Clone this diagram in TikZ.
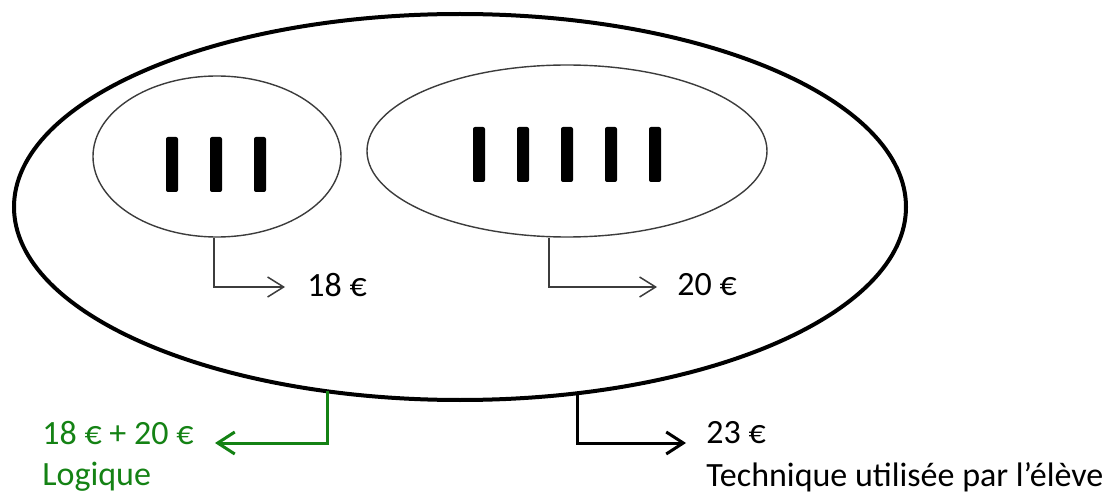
\documentclass[tikz,border=0pt]{standalone}
\usepackage{fontspec}
\setmainfont{Carlito}
\usetikzlibrary{shapes.geometric,arrows.meta}
\definecolor{logicgreen}{RGB}{20,130,20}
\definecolor{thingray}{RGB}{60,60,60}
\tikzset{
  bigell/.style={draw=black, line width=2pt, ellipse, inner sep=0pt, minimum width=446pt, minimum height=193pt},
  smallell/.style={draw=thingray, line width=0.7pt, ellipse, inner sep=0pt},
  bar/.style={fill=black, rounded corners=1pt},
  thinarrow/.style={draw=thingray, line width=0.75pt, -{Straight Barb[length=8pt,width=10pt,line width=0.75pt]}},
  thickarrow/.style={line width=1.5pt, -{Straight Barb[length=8.5pt,width=11pt,line width=1.5pt]}},
  lab/.style={anchor=west, inner sep=0pt, font=\fontsize{17}{20}\selectfont}
}
\begin{document}
\begin{tikzpicture}[x=0.5pt,y=-0.5pt]
\useasboundingbox (0,0) rectangle (1115,492);
% outer ellipse
\node[bigell] (big) at (460,207) {};
% inner ellipses
\node[smallell, minimum width=124pt, minimum height=80.5pt] (e1) at (217,156.5) {};
\node[smallell, minimum width=200pt, minimum height=86pt] (e2) at (567,151) {};
% bars
\foreach \x in {172,216,260} \fill[bar] (\x-6,137) rectangle (\x+6,192);
\foreach \x in {479,523,567,611,655} \fill[bar] (\x-6,127) rectangle (\x+6,182);
% labels
\node[lab] (l18) at (307,285) {18 €};
\node[lab] (l20) at (677,285) {20 €};
\node[lab, text=logicgreen] (lsum) at (42,433) {18 € + 20 €};
\node[lab, text=logicgreen] (llog) at (42,477) {Logique};
\node[lab] (l23) at (706,433) {23 €};
\node[lab] (ltech) at (706,477) {Technique utilisée par l’élève};
% arrow endpoints
\coordinate (t18) at (285,287);
\coordinate (t20) at (657,287);
\coordinate (g0) at (327,391);
\coordinate (tg) at (215,443);
\coordinate (b0) at (577,393);
\coordinate (tb) at (686,443);
% connectors
\draw[thinarrow] ([xshift=-1.5pt]e1.south) |- (t18);
\draw[thinarrow] ([xshift=-9pt]e2.south) |- (t20);
\draw[thickarrow, draw=logicgreen] (g0) |- (tg);
\draw[thickarrow, draw=black] (b0) |- (tb);
\end{tikzpicture}
\end{document}
